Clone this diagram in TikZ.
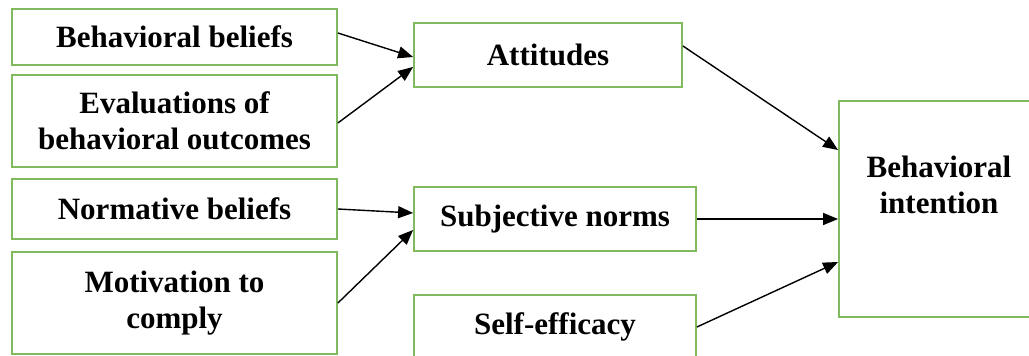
\documentclass[tikz,border=0pt]{standalone}
\usepackage{fontspec}
\setmainfont{Liberation Serif}
\usetikzlibrary{arrows.meta}
\definecolor{boxgreen}{RGB}{128,186,92}
\tikzset{
  box/.style={draw=boxgreen, line width=1.8pt, rectangle, inner sep=0pt, align=center,
    font=\fontsize{31}{36}\selectfont\bfseries, fill=white},
  txt/.style={inner sep=0pt, align=center, font=\fontsize{31}{36}\selectfont\bfseries},
  arr/.style={line width=1.4pt, -{Triangle[length=15pt,width=12pt]}}
}
\begin{document}
\begin{tikzpicture}[x=1pt,y=-1pt]
\useasboundingbox (0,0) rectangle (1029,356);
\node[box, minimum width=325pt, minimum height=56pt] (bb) at (174.5,37) {Behavioral beliefs};
\node[box, minimum width=325pt, minimum height=92pt] (ev) at (174.5,121) {Evaluations of\\behavioral outcomes};
\node[box, minimum width=325pt, minimum height=60pt] (nb) at (174.5,209) {Normative beliefs};
\node[box, minimum width=325pt, minimum height=102pt] (mc) at (174.5,303) {Motivation to\\comply};
\node[box, minimum width=268pt, minimum height=64pt] (att) at (548,55) {Attitudes};
\node[box, minimum width=282pt, minimum height=64pt] (sn) at (555,219) {Subjective norms};
\node[box, minimum width=282pt, minimum height=64pt] (se) at (555,327) {Self-efficacy};
\node[box, minimum width=200pt, minimum height=216pt] (bi) at (939,209) {};
\node[txt] (bitext) at (939,185) {Behavioral\\intention};
\draw[arr] ([yshift=4pt]bb.east) -- ([yshift=-2pt]att.west);
\draw[arr] ([yshift=-2pt]ev.east) -- ([yshift=-12pt]att.west);
\draw[arr] (nb.east) -- ([yshift=6pt]sn.west);
\draw[arr] (mc.east) -- ([yshift=-11pt]sn.west);
\draw[arr] ([yshift=9pt]att.east) -- ([yshift=59pt]bi.west);
\draw[arr] (sn.east) -- ([yshift=-10pt]bi.west);
\draw[arr] (se.east) -- ([yshift=-53pt]bi.west);
\end{tikzpicture}
\end{document}
